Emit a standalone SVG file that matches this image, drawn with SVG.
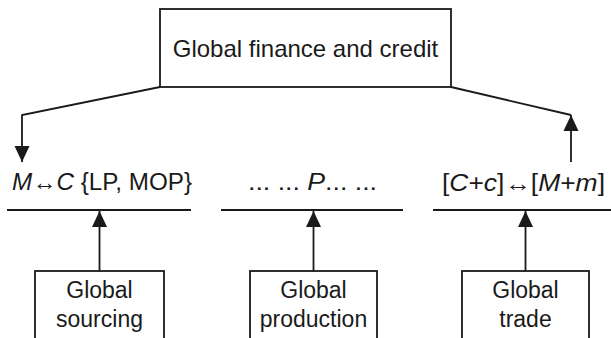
<svg xmlns="http://www.w3.org/2000/svg" width="611" height="338" viewBox="0 0 611 338">
  <defs>
    <style>
      .box { fill: #ffffff; stroke: #1a1a1a; stroke-width: 1.8; }
      .ln { fill: none; stroke: #1a1a1a; stroke-width: 1.8; }
      .t { font-family: "Liberation Sans", Arial, sans-serif; fill: #1a1a1a; }
      .it { font-style: italic; }
    </style>
    <marker id="ah" markerUnits="userSpaceOnUse" markerWidth="16" markerHeight="16" viewBox="0 0 16 16" refX="16" refY="8" orient="auto">
      <path d="M0,0.5 L16,8 L0,15.5 Z" fill="#1a1a1a"/>
    </marker>
  </defs>
  <rect width="611" height="338" fill="#ffffff"/>

  <g id="finance">
    <rect class="box" x="160" y="9" width="291" height="78"/>
    <text class="t" x="305.5" y="57" font-size="24" text-anchor="middle">Global finance and credit</text>
  </g>

  <g id="label-sourcing">
    <text class="t" x="12" y="190" font-size="23" textLength="180" lengthAdjust="spacingAndGlyphs"><tspan class="it">M</tspan>↔<tspan class="it">C</tspan> {LP, MOP}</text>
  </g>
  <g id="label-production">
    <text class="t" x="248" y="190" font-size="23" textLength="129" lengthAdjust="spacingAndGlyphs">... ... <tspan class="it">P</tspan>... ...</text>
  </g>
  <g id="label-trade">
    <text class="t" x="442" y="191" font-size="23" textLength="163" lengthAdjust="spacingAndGlyphs">[<tspan class="it">C</tspan>+<tspan class="it">c</tspan>]↔[<tspan class="it">M</tspan>+<tspan class="it">m</tspan>]</text>
  </g>

  <g id="sourcing">
    <rect class="box" x="35" y="271" width="129" height="80"/>
    <text class="t" x="99.5" y="298" font-size="23" text-anchor="middle">Global</text>
    <text class="t" x="99.5" y="327" font-size="23" text-anchor="middle">sourcing</text>
  </g>
  <g id="production">
    <rect class="box" x="250" y="271" width="127" height="80"/>
    <text class="t" x="313.5" y="298" font-size="23" text-anchor="middle">Global</text>
    <text class="t" x="313.5" y="327" font-size="23" text-anchor="middle">production</text>
  </g>
  <g id="trade">
    <rect class="box" x="462" y="271" width="127" height="80"/>
    <text class="t" x="525.5" y="298" font-size="23" text-anchor="middle">Global</text>
    <text class="t" x="525.5" y="327" font-size="23" text-anchor="middle">trade</text>
  </g>

  <g id="connectors">
    <line class="ln" x1="7" y1="210" x2="191" y2="210"/>
    <line class="ln" x1="221" y1="210" x2="403" y2="210"/>
    <line class="ln" x1="433" y1="210" x2="611" y2="210"/>
    <path class="ln" d="M160,87 L22,115 L22,162" marker-end="url(#ah)"/>
    <path class="ln" d="M451,87 L571,115"/>
    <path class="ln" d="M571,162 L571,115" marker-end="url(#ah)"/>
    <path class="ln" d="M99.5,271 L99.5,211" marker-end="url(#ah)"/>
    <path class="ln" d="M313.5,271 L313.5,211" marker-end="url(#ah)"/>
    <path class="ln" d="M525.5,271 L525.5,211" marker-end="url(#ah)"/>
  </g>
</svg>
